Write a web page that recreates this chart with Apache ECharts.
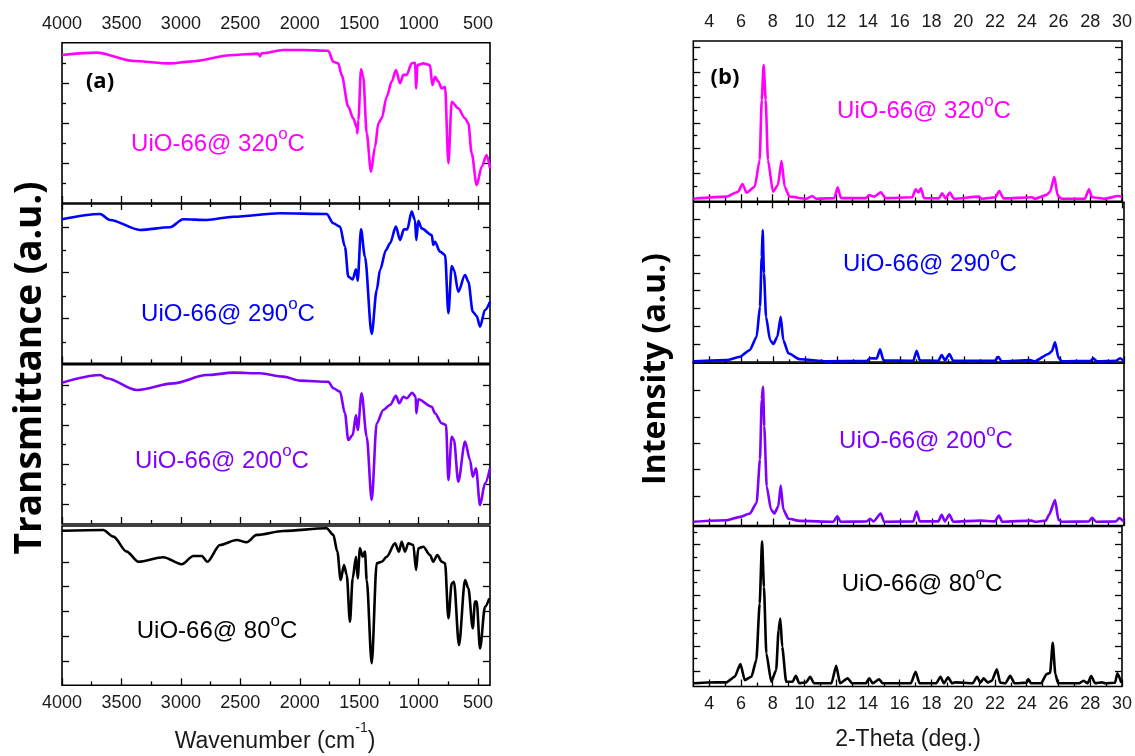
<!DOCTYPE html>
<html>
<head>
<meta charset="utf-8">
<script src="https://cdn.jsdelivr.net/npm/echarts@6/dist/echarts.min.js"></script>
<style>
  html, body { margin: 0; padding: 0; background: #fff; }
  #chart { width: 1135px; height: 756px; }
</style>
</head>
<body>
<div id="chart"></div>
<script>
// ---- data: FTIR (wavenumber, transmittance a.u.) ----
const ftir320 = [[4000,92.3],[3708,93.8],[3400,88.6],[3092,87.1],[2923,88.2],[2559,92.3],[2350,93.2],[2335,91.5],[2320,93.4],[2139,95.4],[1970,95.4],[1760,95.0],[1718,88.1],[1676,87.1],[1648,79.9],[1592,60.1],[1550,52.8],[1520,47],[1516,43.5],[1507,51.8],[1485,83.4],[1466,78.8],[1437,43.5],[1401,19.5],[1367,35.1],[1339,49.7],[1311,52.8],[1269,66.3],[1227,75.7],[1191,83.0],[1157,74.7],[1129,79.9],[1101,79.9],[1059,87.1],[1031,87.5],[1020,71.5],[1011,86.1],[961,87.1],[905,86.1],[885,73.6],[863,78.8],[835,75.7],[806,71.5],[778,72.5],[750,24.8],[722,63.2],[667,59.1],[610,52.8],[582,49.7],[554,31.0],[512,11.2],[470,22.6],[428,29.9],[400,21.6]];
const ftir290 = [[4000,90.4],[3680,93.7],[3596,90.0],[3344,83.7],[3092,85.4],[2980,90.4],[2783,90.0],[2559,92.0],[2166,94.2],[1774,93.7],[1718,87.9],[1662,85.8],[1620,73.2],[1592,54.4],[1555,52.7],[1527,59.0],[1513,51.9],[1485,84.1],[1452,66.9],[1395,18.4],[1353,46.0],[1325,58.6],[1275,71.1],[1241,75.3],[1191,85.8],[1157,77.4],[1124,84.1],[1096,84.1],[1059,95.2],[1031,90.0],[1020,77.4],[1003,89.5],[975,84.7],[890,80.5],[877,74.3],[863,76.3],[821,70.1],[778,68.0],[750,31.4],[722,61.1],[703,58.6],[667,44.9],[610,55.4],[582,51.2],[545,32.4],[512,29.7],[484,23.0],[442,33.5],[400,38.7]];
const ftir200 = [[4000,88.7],[3680,93.5],[3624,91.5],[3372,84.1],[3064,88.3],[2783,93.5],[2559,95.0],[2335,94.6],[2139,92.5],[1998,90.0],[1760,89.3],[1718,85.2],[1662,83.1],[1620,69.5],[1592,52.7],[1555,55.9],[1527,68.4],[1513,59.0],[1480,82.0],[1437,54.8],[1395,15.1],[1353,63.2],[1297,71.6],[1241,74.7],[1191,80.4],[1163,75.8],[1129,79.9],[1101,78.9],[1054,82.4],[1025,79.9],[1020,69.5],[1003,78.3],[890,73.6],[863,69.5],[806,63.2],[770,62.1],[750,27.6],[722,54.8],[703,52.7],[667,26.6],[610,51.7],[568,40.2],[545,29.7],[518,35.0],[484,11.9],[442,25.5],[400,35.0]];
const ftir80 = [[4000,97.0],[3653,97.5],[3568,93.3],[3456,83.9],[3358,77.6],[3148,80.4],[2993,76.0],[2895,81.2],[2825,81.2],[2778,77.6],[2671,88.1],[2531,91.2],[2447,89.8],[2362,94.4],[2139,96.9],[1774,98.6],[1718,94.4],[1684,83.9],[1656,66.1],[1628,75.5],[1605,69.2],[1578,39.9],[1555,67.2],[1527,80.7],[1513,67.2],[1494,86.0],[1471,80.7],[1452,83.9],[1437,66.1],[1395,13.8],[1353,76.6],[1311,77.6],[1269,80.7],[1199,89.1],[1166,83.9],[1143,90.1],[1115,83.9],[1087,89.1],[1045,88.1],[1022,72.4],[1003,86.0],[961,87.0],[905,81.8],[877,77.6],[843,81.8],[806,77.6],[778,76.6],[750,42.1],[722,64.0],[703,65.0],[661,25.3],[610,66.1],[582,60.9],[545,35.8],[526,52.5],[512,52.5],[484,23.2],[442,49.3],[406,54.6]];

// ---- data: XRD (2-theta, intensity a.u.) ----
const xrd320 = [[3,1.6],[5.09,2.9],[5.82,6.0],[6.10,10.8],[6.35,5.4],[6.87,9.1],[7.18,25.8],[7.31,63.2],[7.43,85.0],[7.56,63.2],[7.70,25.8],[8.02,6.0],[8.33,10.2],[8.56,25.3],[8.75,9.1],[9.06,2.9],[10.11,1.6],[10.49,3.3],[10.74,1.6],[11.88,2.0],[12.09,8.7],[12.30,2.0],[13.87,2.0],[14.08,3.9],[14.39,2.9],[14.81,5.6],[15.12,2.0],[16.79,2.5],[17.0,7.5],[17.17,5.5],[17.34,8.1],[17.53,2.0],[18.47,1.8],[18.67,5.0],[18.89,1.8],[19.16,5.4],[19.41,1.6],[20.98,2.9],[21.18,1.6],[22.02,2.5],[22.27,6.4],[22.54,1.8],[24.32,2.5],[24.53,1.6],[25.26,4.0],[25.47,6.0],[25.74,15.3],[25.95,3.5],[26.20,1.6],[27.66,1.6],[27.92,7.5],[28.12,2.5],[28.92,1.6],[29.75,3.3],[30,2.9]];
const xrd290 = [[3,1.2],[5.09,2.0],[5.93,4.1],[6.55,8.3],[6.97,16.5],[7.18,35.2],[7.29,66.2],[7.35,82.8],[7.43,55.9],[7.56,28.9],[7.81,14.5],[8.02,12.0],[8.27,16.5],[8.48,28.9],[8.64,14.5],[8.96,6.2],[9.69,2.5],[11.36,1.2],[13.87,1.5],[14.08,3.1],[14.5,3.0],[14.71,8.7],[14.92,1.8],[16.79,1.5],[17.0,7.8],[17.2,1.8],[18.36,1.5],[18.57,5.2],[18.78,1.8],[19.05,5.8],[19.3,1.5],[21.9,1.5],[22.12,4.1],[22.33,1.2],[24.11,2.0],[24.4,1.2],[25.26,5.8],[25.47,7.5],[25.68,13.0],[25.89,3.5],[26.1,1.2],[27.9,1.5],[28.08,3.1],[28.3,1.2],[29.5,1.5],[29.75,3.1],[30,1.2]];
const xrd200 = [[3,2.3],[5.09,3.2],[5.93,5.3],[6.55,7.3],[6.97,13.9],[7.18,40.4],[7.29,77.1],[7.37,84.8],[7.45,60.7],[7.60,24.0],[7.87,9.8],[8.08,7.3],[8.33,11.8],[8.48,24.5],[8.64,9.8],[8.96,4.1],[9.69,2.8],[11.78,2.3],[12.03,5.7],[12.24,2.3],[13.87,2.5],[14.08,4.1],[14.3,2.5],[14.75,7.3],[14.96,2.3],[16.79,2.5],[17.0,8.6],[17.2,2.5],[18.36,2.5],[18.57,6.5],[18.78,2.5],[19.05,6.7],[19.3,2.3],[20.96,3.0],[21.9,2.5],[22.16,6.1],[22.37,2.3],[24.2,3.0],[24.4,2.3],[25.1,3.0],[25.3,6.5],[25.68,15.5],[25.89,3.5],[26.1,2.3],[27.8,2.5],[28.0,4.7],[28.25,2.3],[29.5,2.5],[29.7,4.5],[30,2.3]];
const xrd80 = [[3,2.0],[3.92,2.5],[5.09,2.6],[5.61,6.1],[5.97,14.0],[6.24,4.0],[6.66,6.1],[6.97,16.5],[7.18,51.8],[7.33,90.8],[7.45,62.2],[7.6,20.7],[7.91,3.0],[8.22,10.3],[8.37,35.2],[8.48,42.5],[8.6,24.8],[8.85,3.0],[9.25,3.0],[9.46,6.7],[9.67,2.0],[10.1,2.6],[10.36,6.1],[10.6,2.0],[11.7,2.0],[12.0,13.0],[12.24,2.0],[12.72,5.1],[13.0,2.0],[13.87,2.0],[14.08,5.1],[14.3,2.0],[14.71,4.5],[14.92,2.0],[16.7,2.0],[17.0,9.2],[17.25,2.0],[18.3,2.0],[18.57,6.1],[18.78,2.0],[19.05,5.7],[19.3,2.0],[19.5,2.6],[20.6,2.0],[20.87,6.1],[21.08,2.4],[21.29,5.1],[21.55,2.4],[21.8,3.6],[22.12,10.7],[22.33,2.4],[22.65,2.0],[22.96,6.7],[23.23,2.0],[24.0,2.4],[24.1,4.7],[24.27,2.0],[24.9,2.0],[25.26,7.8],[25.47,8.5],[25.64,27.3],[25.8,8.0],[25.97,2.0],[27.3,2.0],[27.58,3.6],[27.83,2.0],[28.06,6.5],[28.31,2.0],[28.73,2.6],[28.94,2.0],[29.56,2.3],[29.71,8.2],[29.96,2.3]];

// ---- labels / ticks ----
const sampleTemps = ['320', '290', '200', '80'];
const sampleColors = ['#ff00ff', '#0000ff', '#8000ff', '#000000'];
const wnMajor = [4000, 3500, 3000, 2500, 2000, 1500, 1000, 500];
const wnMinor = [3750, 3250, 2750, 2250, 1750, 1250, 750];
const thetaMajor = [4, 6, 8, 10, 12, 14, 16, 18, 20, 22, 24, 26, 28, 30];
const thetaMinor = [5, 7, 9, 11, 13, 15, 17, 19, 21, 23, 25, 27, 29];
const ftirYMajor = [[74.8, 49.9, 24.9], [85.7, 56.9, 28.0], [87.4, 62.3, 37.2, 12.1], [77.4, 61.9, 46.5, 31.0, 15.4]];
const ftirYMinor = [[87.3, 62.4, 37.4, 12.5], [71.1, 42.2, 13.4], [74.9, 49.8, 24.7], []];
const xrdYMajor = [[96.3, 80.5, 64.7, 48.9, 33.1, 17.3], [89.2, 78.0, 67.1, 56.1, 45.1, 34.2, 23.0, 12.0], [82.7, 66.5, 50.3, 34.1, 17.9], [88.6, 72.8, 57.0, 41.1, 25.3, 9.3]];
const xrdYMinor = [[88.4, 72.6, 56.8, 41.0, 25.2, 9.4], [], [], [96.6, 80.8, 64.9, 48.9, 33.3, 17.4]];

const ftirData = [ftir320, ftir290, ftir200, ftir80];
const xrdData = [xrd320, xrd290, xrd200, xrd80];

// layout
const leftTops = [42.7, 204, 364.7, 526];
const leftHeights = [160.3, 159.3, 159.3, 159.3];
const rightTops = [41, 202.3, 362, 526.5];
const rightHeights = [160.3, 161, 163.5, 160];

const labelFont = 'Liberation Sans, Arial, sans-serif';
const boldFont = 'Open Sans, sans-serif';

const grids = [];
const xAxes = [];
const yAxes = [];
const series = [];

function tickAxis(gridIndex, min, max, position, ticks, len, labels, inverse, margin) {
  return {
    type: 'value', gridIndex, min, max, position, inverse: !!inverse,
    axisLine: { show: false },
    splitLine: { show: false },
    axisTick: { show: true, inside: true, length: len, customValues: ticks,
      lineStyle: { color: '#000', width: 1.3 } },
    axisLabel: labels
      ? { show: true, customValues: labels, color: '#1a1a1a', fontSize: 18, fontFamily: labelFont,
          margin: margin, formatter: v => String(v) }
      : { show: false }
  };
}

function addPanel(left, width, tops, heights, xmin, xmax, inverse, xMajor, xMinor, yMajor, yMinor, datasets, smooth) {
  for (let i = 0; i < 4; i++) {
    const gi = grids.length;
    grids.push({ left, width, top: tops[i], height: heights[i], show: true,
      borderColor: '#000', borderWidth: 1.6, backgroundColor: 'transparent' });
    const last = i === 3;
    const xIdx = xAxes.length;
    xAxes.push(tickAxis(gi, xmin, xmax, 'bottom', xMajor, 7, last ? xMajor : null, inverse, 9));
    xAxes.push(tickAxis(gi, xmin, xmax, 'bottom', xMinor, 4, null, inverse));
    if (i === 0) {
      xAxes.push(tickAxis(gi, xmin, xmax, 'top', xMajor, 7, xMajor, inverse, 10));
      xAxes.push(tickAxis(gi, xmin, xmax, 'top', xMinor, 4, null, inverse));
    }
    const yIdx = yAxes.length;
    yAxes.push(tickAxis(gi, 0, 100, 'left', yMajor[i], 7, null));
    yAxes.push(tickAxis(gi, 0, 100, 'right', yMajor[i], 7, null));
    if (yMinor[i].length) {
      yAxes.push(tickAxis(gi, 0, 100, 'left', yMinor[i], 4, null));
      yAxes.push(tickAxis(gi, 0, 100, 'right', yMinor[i], 4, null));
    }
    series.push({
      type: 'line', xAxisIndex: xIdx, yAxisIndex: yIdx, data: datasets[i],
      showSymbol: false, clip: true, silent: true,
      smooth: smooth, smoothMonotone: 'x',
      lineStyle: { color: sampleColors[i], width: 2.6, join: 'round' }
    });
  }
}

addPanel(62, 428, leftTops, leftHeights, 400, 4000, true, wnMajor, wnMinor, ftirYMajor, ftirYMinor, ftirData, 0.3);
addPanel(693.3, 430.7, rightTops, rightHeights, 3, 30, false, thetaMajor, thetaMinor, xrdYMajor, xrdYMinor, xrdData, 0.2);

// text with a raised part; extra line height lifts the raised token
function supText(x, y, main, sup, tail, color, size, supSize, extra) {
  return {
    type: 'text', x, y, silent: true,
    style: {
      text: '{n|' + main + '}{s|' + sup + '}{n|' + tail + '}',
      align: 'center', verticalAlign: 'middle',
      rich: {
        n: { fontSize: size, lineHeight: size + extra, fontFamily: labelFont, fill: color, verticalAlign: 'bottom' },
        s: { fontSize: supSize, lineHeight: supSize, fontFamily: labelFont, fill: color, verticalAlign: 'top' }
      }
    }
  };
}

const leftLabelPos = [[218, 141], [228, 311], [222, 458], [217, 628]];
const rightLabelPos = [[924, 108], [930, 261], [926, 438], [922, 581]];

const graphics = [];
leftLabelPos.forEach((p, i) => graphics.push(supText(p[0], p[1], 'UiO-66@ ' + sampleTemps[i], 'o', 'C', sampleColors[i], 24, 17, 7)));
rightLabelPos.forEach((p, i) => graphics.push(supText(p[0], p[1], 'UiO-66@ ' + sampleTemps[i], 'o', 'C', sampleColors[i], 24, 17, 7)));

graphics.push({ type: 'text', x: 100, y: 82, silent: true,
  style: { text: '(a)', font: 'bold 22px ' + boldFont, fill: '#000', align: 'center', verticalAlign: 'middle' } });
graphics.push({ type: 'text', x: 725, y: 78, silent: true,
  style: { text: '(b)', font: 'bold 22px ' + boldFont, fill: '#000', align: 'center', verticalAlign: 'middle' } });

graphics.push(supText(275, 737, 'Wavenumber (cm', '-1', ')', '#1a1a1a', 23, 14, 9));
graphics.push({ type: 'text', x: 908, y: 740, silent: true,
  style: { text: '2-Theta (deg.)', font: '23px ' + labelFont, fill: '#1a1a1a', align: 'center', verticalAlign: 'middle' } });

graphics.push({ type: 'text', x: 30, y: 368, rotation: Math.PI / 2, silent: true,
  style: { text: 'Transmittance (a.u.)', font: 'bold 37px ' + boldFont, fill: '#000', align: 'center', verticalAlign: 'middle' } });
graphics.push({ type: 'text', x: 656, y: 369, rotation: Math.PI / 2, silent: true,
  style: { text: 'Intensity (a.u.)', font: 'bold 32px ' + boldFont, fill: '#000', align: 'center', verticalAlign: 'middle' } });

const chart = echarts.init(document.getElementById('chart'));
chart.setOption({
  animation: false,
  backgroundColor: '#fff',
  grid: grids,
  xAxis: xAxes,
  yAxis: yAxes,
  series: series,
  graphic: graphics
});
</script>
</body>
</html>
